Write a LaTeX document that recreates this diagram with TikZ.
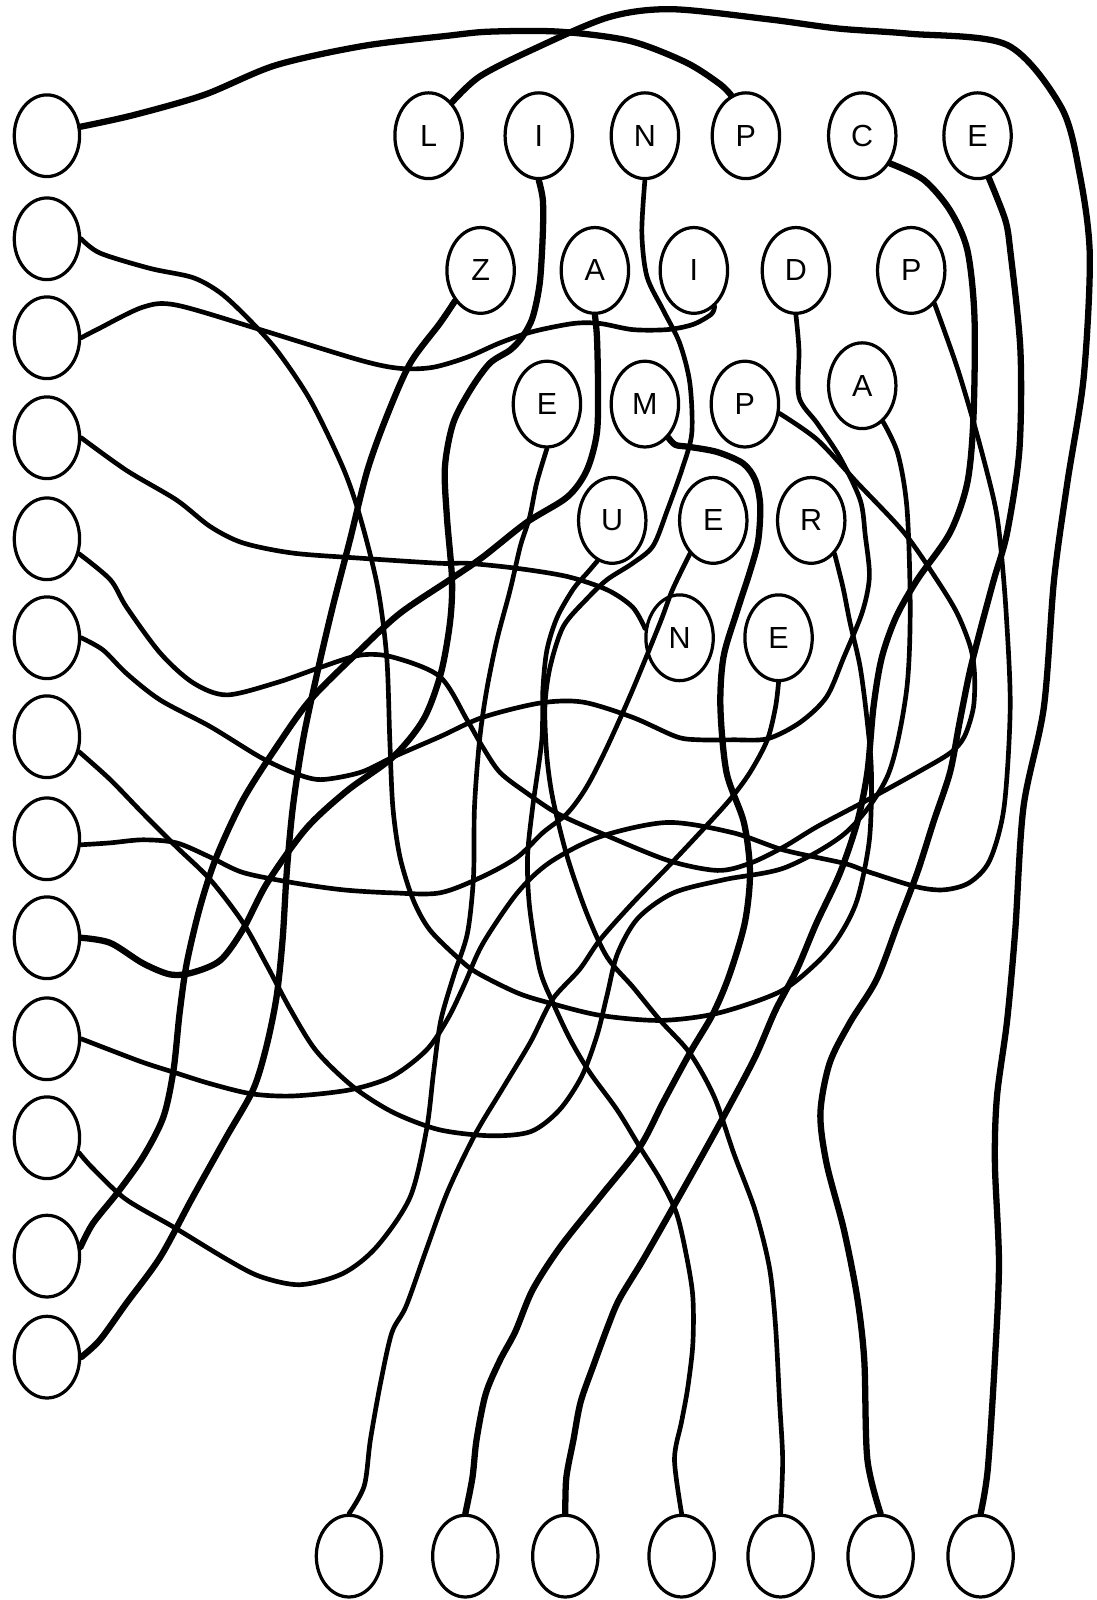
\documentclass[tikz,border=0pt]{standalone}
\usepackage{fontspec}
\setmainfont{Liberation Sans}
\usetikzlibrary{shapes.geometric}
\tikzset{
  ring/.style   = {draw, ellipse, line width=0.9pt, inner sep=0pt,
                   minimum width=0.64cm, minimum height=0.80cm},
  letter/.style = {ring, minimum width=0.66cm, minimum height=0.84cm,
                   font=\fontsize{8.5}{10}\selectfont},
  wire/.style   = {line width=1.3pt, line cap=round, line join=round},
  heavy/.style  = {line width=1.75pt, line cap=round, line join=round},
}
\begin{document}
\begin{tikzpicture}[x=0.01cm,y=-0.01cm]
\useasboundingbox (0,0) rectangle (1075,1568);
\foreach \i/\y in {1/133,2/234,3/331,4/429,5/528,6/625,7/722,8/822,9/919,10/1018,11/1115,12/1231,13/1330}
  \node[ring] (l\i) at (46,\y) {};
\foreach \i/\x in {1/342,2/456,3/554,4/668,5/765,6/863,7/961}
  \node[ring] (b\i) at (\x,1525) {};
\node[letter] (tL) at (420,133) {L};
\node[letter] (tI) at (528,133) {I};
\node[letter] (tN) at (632,133) {N};
\node[letter] (tP) at (731,133) {P};
\node[letter] (tC) at (845,133) {C};
\node[letter] (tE) at (958,133) {E};
\node[letter] (sZ) at (471,265) {Z};
\node[letter] (sA) at (583,265) {A};
\node[letter] (sI) at (680,265) {I};
\node[letter] (sD) at (780,265) {D};
\node[letter] (sP) at (893,265) {P};
\node[letter] (mE) at (536,396) {E};
\node[letter] (mM) at (632,396) {M};
\node[letter] (mP) at (730,396) {P};
\node[letter] (mA) at (845,378) {A};
\node[letter] (uU) at (600,510) {U};
\node[letter] (uE) at (699,510) {E};
\node[letter] (uR) at (795,510) {R};
\node[letter] (nN) at (666,625) {N};
\node[letter] (nE) at (763,625) {E};
\draw[heavy] plot[smooth] coordinates {(l1.15) (130,113) (200,93) (270,64) (356,45) (439,35) (480,31) (548,31) (617,40) (672,61) (705,82) (tP.110)};
\draw[heavy] plot[smooth] coordinates {(tL.55) (470,75) (521,49) (596,17) (658,9) (754,19) (822,28) (891,33) (987,44) (1040,105) (1058,170) (1068,250) (1062,370) (1046,473) (1033,568) (1023,693) (1003,791) (995,911) (987,1000) (977,1075) (975,1140) (979,1238) (975,1333) (968,1440) (b7.north)};
\draw[wire] plot[smooth] coordinates {(l2.east) (98,248) (147,263) (189,272) (216,287) (242,311) (271,343) (304,392) (336,458) (353,507) (370,575) (379,644) (382,725) (385,791) (392,840) (405,882) (421,911) (448,938) (467,953) (507,973) (539,983) (588,995) (647,1000) (703,993) (764,972) (800,944) (822,918) (840,882) (852,823) (854,757) (850,708) (843,654) (833,610) (826,575) (uR.-55)};
\draw[wire] plot[smooth] coordinates {(l3.east) (95,323) (140,301) (173,299) (255,323) (353,353) (392,361) (424,360) (458,350) (490,336) (522,325) (562,317) (588,317) (620,323) (654,323) (679,318) (697,308) (sI.-60)};
\draw[wire] plot[smooth] coordinates {(l4.east) (124,461) (173,490) (206,516) (238,532) (287,542) (353,547) (431,552) (458,552) (507,557) (556,565) (595,578) (620,595) (nN.165)};
\draw[wire] plot[smooth] coordinates {(l5.-25) (108,568) (124,595) (157,640) (189,669) (222,681) (271,669) (314,654) (353,642) (385,644) (431,663) (458,706) (473,732) (490,757) (516,777) (546,797) (588,816) (654,843) (703,853) (735,846) (768,830) (801,810) (850,784) (899,757) (931,738) (945,722) (954,693) (955,660) (951,634) (938,601) (918,568) (886,522) (840,473) (801,431) (mP.-15)};
\draw[wire] plot[smooth] coordinates {(l6.east) (101,637) (124,660) (157,686) (206,712) (255,742) (287,757) (314,764) (353,757) (385,742) (431,722) (473,703) (529,689) (571,688) (620,703) (663,722) (686,725) (718,725) (752,724) (784,708) (810,683) (827,644) (845,600) (852,565) (848,525) (843,490) (823,448) (801,415) (783,389) (783,343) (sD.south)};
\draw[wire] plot[smooth] coordinates {(l7.-25) (108,764) (140,797) (173,830) (206,862) (238,904) (261,945) (285,990) (310,1030) (346,1065) (385,1090) (430,1107) (480,1113) (520,1109) (548,1088) (570,1055) (585,1015) (595,975) (605,935) (625,900) (660,875) (710,862) (770,850) (830,815) (870,760) (888,680) (892,600) (889,500) (880,445) (mA.-60)};
\draw[wire] plot[smooth] coordinates {(l8.-10) (108,826) (140,823) (173,826) (206,840) (238,855) (287,865) (336,872) (385,875) (431,875) (473,859) (507,840) (532,816) (556,797) (575,771) (595,732) (620,676) (647,610) (659,578) (uE.-125)};
\draw[heavy] plot[smooth] coordinates {(l9.east) (108,924) (140,944) (167,955) (189,953) (216,941) (238,911) (262,865) (300,812) (340,775) (385,742) (415,705) (432,660) (441,610) (443,568) (438,507) (436,458) (444,415) (461,382) (480,356) (500,343) (512,330) (522,311) (529,277) (532,228) (532,196) (tI.south)};
\draw[wire] plot[smooth] coordinates {(l10.east) (137,1040) (171,1051) (206,1062) (247,1072) (288,1074) (343,1068) (384,1055) (418,1029) (439,998) (455,965) (473,925) (507,875) (539,845) (588,820) (654,806) (718,816) (768,833) (827,846) (850,854) (898,869) (925,872) (950,865) (970,843) (984,791) (990,693) (986,600) (980,529) (974,490) (957,424) (938,360) (sP.-55)};
\draw[wire] plot[smooth] coordinates {(l11.-25) (91,1145) (123,1175) (171,1203) (222,1234) (255,1251) (294,1259) (336,1248) (369,1222) (402,1173) (418,1107) (425,1050) (432,1000) (445,955) (458,915) (464,860) (465,791) (470,725) (477,676) (487,627) (500,578) (510,535) (519,507) (526,473) (mE.south)};
\draw[heavy] plot[smooth] coordinates {(l12.15) (91,1199) (115,1169) (140,1134) (160,1095) (170,1049) (176,993) (183,944) (196,889) (212,840) (238,784) (271,732) (304,686) (353,637) (392,601) (441,568) (473,546) (516,512) (556,487) (575,461) (585,424) (586,375) (585,330) (sA.south)};
\draw[heavy] plot[smooth] coordinates {(l13.east) (98,1313) (124,1277) (157,1232) (189,1173) (222,1114) (248,1068) (261,1026) (271,977) (277,920) (281,855) (287,791) (297,725) (311,659) (326,595) (343,529) (360,461) (379,408) (402,356) (431,317) (sZ.-130)};
\draw[wire] plot[smooth] coordinates {(tN.south) (629,228) (634,271) (650,304) (666,336) (676,375) (678,424) (669,458) (654,500) (640,535) (620,552) (595,568) (575,587) (552,614) (539,654) (534,693) (536,742) (542,784) (556,840) (575,895) (595,938) (620,967) (647,1000) (676,1032) (700,1075) (719,1130) (740,1186) (754,1242) (760,1299) (764,1374) (767,1430) (b5.north)};
\draw[heavy] plot[smooth] coordinates {(tC.-45) (905,176) (931,206) (948,245) (955,311) (954,409) (948,473) (931,522) (899,568) (878,605) (864,645) (856,693) (850,757) (840,806) (823,856) (800,905) (781,950) (760,990) (740,1036) (712,1089) (685,1138) (658,1186) (630,1235) (607,1273) (596,1299) (582,1337) (569,1374) (562,1411) (555,1448) (b3.north)};
\draw[heavy] plot[smooth] coordinates {(tE.-75) (985,215) (990,245) (1000,343) (999,441) (987,522) (974,568) (960,620) (950,660) (940,710) (931,757) (915,805) (899,855) (880,905) (859,960) (833,1002) (813,1042) (804,1091) (810,1140) (827,1205) (840,1271) (847,1333) (850,1430) (b6.north)};
\draw[heavy] plot[smooth] coordinates {(mM.-55) (662,436) (676,438) (703,443) (728,454) (740,470) (745,495) (743,530) (735,560) (722,600) (709,644) (706,693) (712,757) (729,806) (735,855) (730,904) (715,955) (699,993) (676,1032) (650,1080) (627,1124) (588,1173) (549,1222) (522,1264) (505,1305) (490,1333) (476,1366) (467,1411) (463,1448) (b2.north)};
\draw[wire] plot[smooth] coordinates {(uU.-110) (575,562) (562,577) (546,605) (536,637) (532,676) (531,725) (522,791) (517,840) (519,889) (529,950) (542,983) (559,1019) (578,1051) (605,1088) (627,1124) (647,1156) (663,1189) (673,1232) (679,1271) (679,1317) (674,1360) (668,1393) (661,1430) (b4.north)};
\draw[wire] plot[smooth] coordinates {(nE.south) (760,693) (752,725) (735,757) (715,784) (686,816) (654,850) (620,885) (588,921) (568,950) (541,980) (520,1021) (493,1066) (466,1111) (439,1167) (418,1224) (398,1280) (384,1306) (373,1355) (363,1411) (357,1456) (b1.north)};
\end{tikzpicture}
\end{document}
